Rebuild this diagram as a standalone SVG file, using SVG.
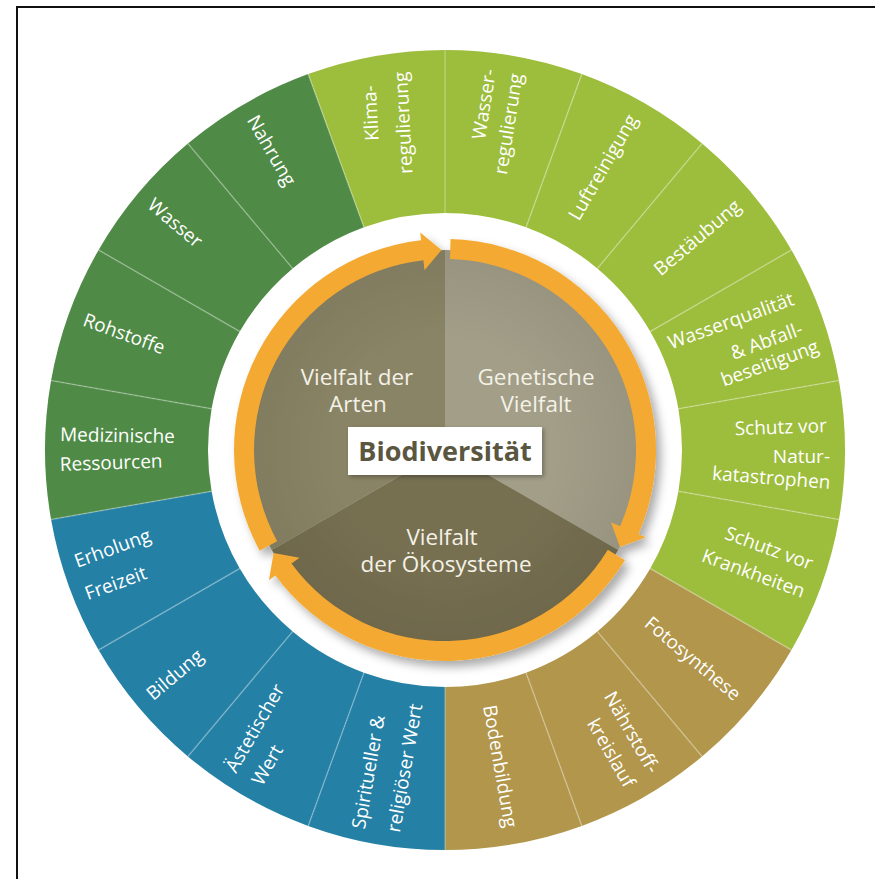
<svg xmlns="http://www.w3.org/2000/svg" width="875" height="879" viewBox="0 0 875 879">
<style>
.lb{font-family:"Open Sans","Noto Sans","Liberation Sans",sans-serif;font-size:19px;fill:#ffffff}
.e{text-anchor:end}
.s{text-anchor:start}
.ct{font-family:"Open Sans","Noto Sans","Liberation Sans",sans-serif;font-size:22.5px;fill:#f4f1e6;text-anchor:middle}
.lg{fill:#9dbd3c}
.dg{fill:#4f8a46}
.br{fill:#b1964b}
.bl{fill:#2480a5}
.arrow{fill:#f4aa32}
.div{stroke:#ffffff;stroke-opacity:0.28;stroke-width:1.5;fill:none}
</style>
<defs>
<filter id="sh" x="-20%" y="-20%" width="140%" height="140%">
<feDropShadow dx="5" dy="6" stdDeviation="5" flood-color="#000" flood-opacity="0.33"/>
</filter>
<filter id="bsh" x="-20%" y="-30%" width="140%" height="160%">
<feDropShadow dx="2" dy="2" stdDeviation="2" flood-color="#000" flood-opacity="0.3"/>
</filter>
<radialGradient id="pieShade" cx="445" cy="450" r="200" gradientUnits="userSpaceOnUse">
<stop offset="0.55" stop-color="#000" stop-opacity="0"/>
<stop offset="1" stop-color="#000" stop-opacity="0.07"/>
</radialGradient>
</defs>
<rect width="875" height="879" fill="#ffffff"/>
<path d="M17,879 V7 H875" fill="none" stroke="#111" stroke-width="2"/>

<g id="n-wasserregulierung"><path class="lg" d="M445,50 A400,400 0 0 1 581.81,74.12 L526.06,227.29 A237,237 0 0 0 445,213 Z"/>
<g transform="rotate(-81 445 450)"><text class="lb e" x="828" y="441">Wasser-</text><text class="lb e" x="828" y="468">regulierung</text></g></g>
<g id="n-luftreinigung"><path class="lg" d="M581.81,74.12 A400,400 0 0 1 702.12,143.58 L597.34,268.45 A237,237 0 0 0 526.06,227.29 Z"/>
<g transform="rotate(-60 445 450)"><text class="lb e" x="828" y="452">Luftreinigung</text></g></g>
<g id="n-bestaeubung"><path class="lg" d="M702.12,143.58 A400,400 0 0 1 791.41,250 L650.25,331.5 A237,237 0 0 0 597.34,268.45 Z"/>
<g transform="rotate(-40 445 450)"><text class="lb e" x="828" y="456">Bestäubung</text></g></g>
<g id="n-wasserqualitaet"><path class="lg" d="M791.41,250 A400,400 0 0 1 838.92,380.54 L678.40,408.85 A237,237 0 0 0 650.25,331.5 Z"/>
<g transform="rotate(-20 445 450)"><text class="lb e" x="824" y="433">Wasserqualität</text><text class="lb e" x="822" y="464">&amp; Abfall-</text><text class="lb e" x="831" y="486">beseitigung</text></g></g>
<g id="n-naturkatastrophen"><path class="lg" d="M838.92,380.54 A400,400 0 0 1 838.92,519.46 L678.40,491.15 A237,237 0 0 0 678.40,408.85 Z"/>
<text class="lb e" x="827" y="432" transform="rotate(-2 827 432)">Schutz vor</text><text class="lb e" x="830" y="463">Natur-</text><text class="lb e" x="830" y="489" transform="rotate(4.5 830 489)">katastrophen</text></g>
<g id="n-krankheiten"><path class="lg" d="M838.92,519.46 A400,400 0 0 1 791.41,650 L650.25,568.5 A237,237 0 0 0 678.40,491.15 Z"/>
<g transform="rotate(20 445 450)"><text class="lb e" x="829" y="438">Schutz vor</text><text class="lb e" x="831" y="467">Krankheiten</text></g></g>
<g id="n-fotosynthese"><path class="br" d="M791.41,650 A400,400 0 0 1 702.12,756.42 L597.34,631.55 A237,237 0 0 0 650.25,568.5 Z"/>
<g transform="rotate(40 445 450)"><text class="lb e" x="828" y="457">Fotosynthese</text></g></g>
<g id="n-naehrstoffkreislauf"><path class="br" d="M702.12,756.42 A400,400 0 0 1 581.81,825.88 L526.06,672.71 A237,237 0 0 0 597.34,631.55 Z"/>
<g transform="rotate(60 445 450)"><text class="lb e" x="828" y="436">Nährstoff-</text><text class="lb e" x="828" y="464">kreislauf</text></g></g>
<g id="n-bodenbildung"><path class="br" d="M581.81,825.88 A400,400 0 0 1 445,850 L445,687 A237,237 0 0 0 526.06,672.71 Z"/>
<g transform="rotate(80 445 450)"><text class="lb e" x="828" y="457">Bodenbildung</text></g></g>
<g id="n-spirituell"><path class="bl" d="M445,850 A400,400 0 0 1 308.19,825.88 L363.94,672.71 A237,237 0 0 0 445,687 Z"/>
<g transform="rotate(-80 445 450)"><text class="lb s" x="57" y="437">Spiritueller &amp;</text><text class="lb s" x="60" y="472">religiöser Wert</text></g></g>
<g id="n-aesthetisch"><path class="bl" d="M308.19,825.88 A400,400 0 0 1 187.88,756.42 L292.66,631.55 A237,237 0 0 0 363.94,672.71 Z"/>
<g transform="rotate(-60 445 450)"><text class="lb s" x="60" y="431">Ästetischer</text><text class="lb s" x="62" y="460">Wert</text></g></g>
<g id="n-bildung"><path class="bl" d="M187.88,756.42 A400,400 0 0 1 98.59,650 L239.75,568.5 A237,237 0 0 0 292.66,631.55 Z"/>
<g transform="rotate(-40 445 450)"><text class="lb s" x="60" y="455">Bildung</text></g></g>
<g id="n-erholung"><path class="bl" d="M98.59,650 A400,400 0 0 1 51.08,519.46 L211.60,491.15 A237,237 0 0 0 239.75,568.5 Z"/>
<g transform="rotate(-20 445 450)"><text class="lb s" x="59" y="435">Erholung</text><text class="lb s" x="58" y="469">Freizeit</text></g></g>
<g id="n-medizin"><path class="dg" d="M51.08,519.46 A400,400 0 0 1 51.08,380.54 L211.60,408.85 A237,237 0 0 0 211.60,491.15 Z"/>
<text class="lb s" x="60" y="441" transform="rotate(1 60 441)">Medizinische</text><text class="lb s" x="60" y="471" transform="rotate(-2 60 471)">Ressourcen</text></g>
<g id="n-rohstoffe"><path class="dg" d="M51.08,380.54 A400,400 0 0 1 98.59,250 L239.75,331.5 A237,237 0 0 0 211.60,408.85 Z"/>
<g transform="rotate(20 445 450)"><text class="lb s" x="61" y="457">Rohstoffe</text></g></g>
<g id="n-wasser"><path class="dg" d="M98.59,250 A400,400 0 0 1 187.88,143.58 L292.66,268.45 A237,237 0 0 0 239.75,331.5 Z"/>
<g transform="rotate(40 445 450)"><text class="lb s" x="60" y="456">Wasser</text></g></g>
<g id="n-nahrung"><path class="dg" d="M187.88,143.58 A400,400 0 0 1 308.19,74.12 L363.94,227.29 A237,237 0 0 0 292.66,268.45 Z"/>
<g transform="rotate(60 445 450)"><text class="lb s" x="60" y="457">Nahrung</text></g></g>
<g id="n-klimaregulierung"><path class="lg" d="M308.19,74.12 A400,400 0 0 1 445,50 L445,213 A237,237 0 0 0 363.94,227.29 Z"/>
<g transform="rotate(-93 445 450)"><text class="lb e" x="813" y="400">Klima-</text><text class="lb e" x="825" y="432">regulierung</text></g></g>

<path class="div" d="M445,213 L445,50 M526.06,227.29 L581.81,74.12 M597.34,268.45 L702.12,143.58 M650.25,331.5 L791.41,250 M678.40,408.85 L838.92,380.54 M678.40,491.15 L838.92,519.46 M650.25,568.5 L791.41,650 M597.34,631.55 L702.12,756.42 M526.06,672.71 L581.81,825.88 M445,687 L445,850 M363.94,672.71 L308.19,825.88 M292.66,631.55 L187.88,756.42 M239.75,568.5 L98.59,650 M211.60,491.15 L51.08,519.46 M211.60,408.85 L51.08,380.54 M239.75,331.5 L98.59,250 M292.66,268.45 L187.88,143.58 M363.94,227.29 L308.19,74.12"/>

<g filter="url(#sh)">
<g id="n-genetisch"><path fill="#a29e88" d="M445,450 L445,250 A200,200 0 0 1 618.21,550 Z"/></g>
<g id="n-oekosysteme"><path fill="#766f51" d="M445,450 L618.21,550 A200,200 0 0 1 271.79,550 Z"/></g>
<g id="n-arten"><path fill="#8a8466" d="M445,450 L271.79,550 A200,200 0 0 1 445,250 Z"/></g>
<circle cx="445" cy="450" r="200" fill="url(#pieShade)"/>
<g id="connectors">
<path class="arrow" d="M259.57,550.68 A211,211 0 0 1 421.11,240.36 L420.21,232.41 L441.51,250.03 L424.51,270.16 L423.38,260.23 A191,191 0 0 0 277.15,541.14 Z"/>
<path class="arrow" d="M450.52,239.07 A211,211 0 0 1 638.50,534.14 L645.84,537.33 L619.92,546.96 L610.99,522.17 L620.16,526.16 A191,191 0 0 0 450.00,259.06 Z"/>
<path class="arrow" d="M624.91,560.25 A211,211 0 0 1 275.39,575.51 L268.95,580.27 L273.57,553.01 L299.50,557.66 L291.46,563.61 A191,191 0 0 0 607.85,549.80 Z"/>
</g>
</g>

<text class="ct" x="357" y="385">Vielfalt der</text>
<text class="ct" x="358" y="412">Arten</text>
<text class="ct" x="536" y="385">Genetische</text>
<text class="ct" x="536" y="412">Vielfalt</text>
<text class="ct" x="442" y="545">Vielfalt</text>
<text class="ct" x="446" y="572">der Ökosysteme</text>

<g id="n-biodiversitaet">
<rect x="348" y="427" width="194" height="48" fill="#ffffff" filter="url(#bsh)"/>
<text x="445" y="461" text-anchor="middle" font-family="'Open Sans','Noto Sans','Liberation Sans',sans-serif" font-size="27" font-weight="bold" fill="#5a5640">Biodiversität</text>
</g>
</svg>
